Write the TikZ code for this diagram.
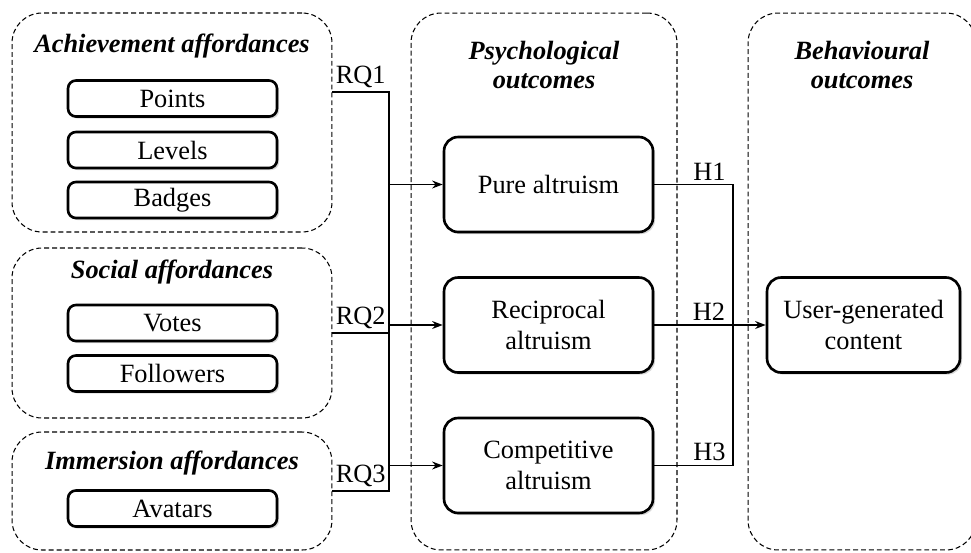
\documentclass[tikz,border=0pt]{standalone}
\usepackage{fontspec}
\setmainfont{Liberation Serif}
\usetikzlibrary{arrows.meta,shadows,positioning}

\begin{document}
\begin{tikzpicture}[x=0.02cm, y=-0.02cm, >={Stealth[length=6pt,width=4.5pt]},
		font=\fontsize{15}{18}\selectfont,
		grp/.style={draw, dash pattern=on 2.8pt off 1.7pt, line width=0.6pt, rounded corners=17pt},
		ttl/.style={font=\fontsize{15}{17}\selectfont\bfseries\itshape, align=center, inner sep=0pt},
		item/.style={draw, line width=1.5pt, rounded corners=4.5pt, fill=white, minimum width=4.18cm, minimum height=0.72cm,
			drop shadow={shadow xshift=1.2pt, shadow yshift=-1.2pt, opacity=0.3}},
		outc/.style={item, rounded corners=8pt, align=center, minimum height=1.9cm},
		conn/.style={line width=0.9pt},
		lbl/.style={above, inner sep=2pt}]
	\useasboundingbox (0,0) rectangle (971,552);
	\clip (0,0) rectangle (971,552);
	% groups
	\node[grp, minimum width=6.4cm, minimum height=4.38cm] (ach) at (172,122.5) {};
	\node[grp, minimum width=6.4cm, minimum height=3.4cm] (soc) at (172,333) {};
	\node[grp, minimum width=6.4cm, minimum height=2.36cm] (imm) at (172,491) {};
	\node[grp, minimum width=5.32cm, minimum height=10.74cm] (psy) at (544,281.5) {};
	\node[grp, minimum width=4.56cm, minimum height=10.74cm] (beh) at (862,281.5) {};
	\node[ttl] (achTitle) at (172,46) {Achievement affordances};
	\node[ttl] (socTitle) at (172,272) {Social affordances};
	\node[ttl] (immTitle) at (172,463) {Immersion affordances};
	\node[ttl] (psyTitle) at (544,65) {Psychological\\outcomes};
	\node[ttl] (behTitle) at (862,65) {Behavioural\\outcomes};
	% affordances
	\foreach \n/\t/\y in {points/Points/98.5, levels/Levels/150, badges/Badges/200,
		votes/Votes/323, followers/Followers/373.5, avatars/Avatars/508.5}{
		\node[item] (\n) at (172.5,\y) {\t};
	}
	% outcomes
	\node[outc] (pure) at (548.5,184.5) {Pure altruism};
	\node[outc] (recip) at (548.5,325) {Reciprocal\\altruism};
	\node[outc] (comp) at (548.5,465.5) {Competitive\\altruism};
	\node[outc, minimum width=3.86cm] (ugc) at (863.5,325) {User-generated\\content};
	% connectors
	\coordinate (rq1) at (ach.east |- 0,92);
	\coordinate (busL) at (389,92);
	\coordinate (busR) at (733,0);
	\draw[conn] (rq1) -- node[lbl]{RQ1} (busL) -- (busL |- imm.east) -- node[lbl]{RQ3} (imm.east);
	\draw[conn] (soc.east) -- node[lbl]{RQ2} (soc.east -| busL);
	\foreach \n in {pure,recip,comp}{
		\draw[conn,->] (busL |- \n.west) -- (\n.west);
	}
	\draw[conn] (pure.east) -- node[lbl, pos=0.7]{H1} (pure.east -| busR) -- (comp.east -| busR) -- node[lbl, pos=0.3]{H3} (comp.east);
	\draw[conn,->] (recip.east) -- node[lbl, pos=0.49]{H2} (ugc.west);
\end{tikzpicture}
\end{document}
